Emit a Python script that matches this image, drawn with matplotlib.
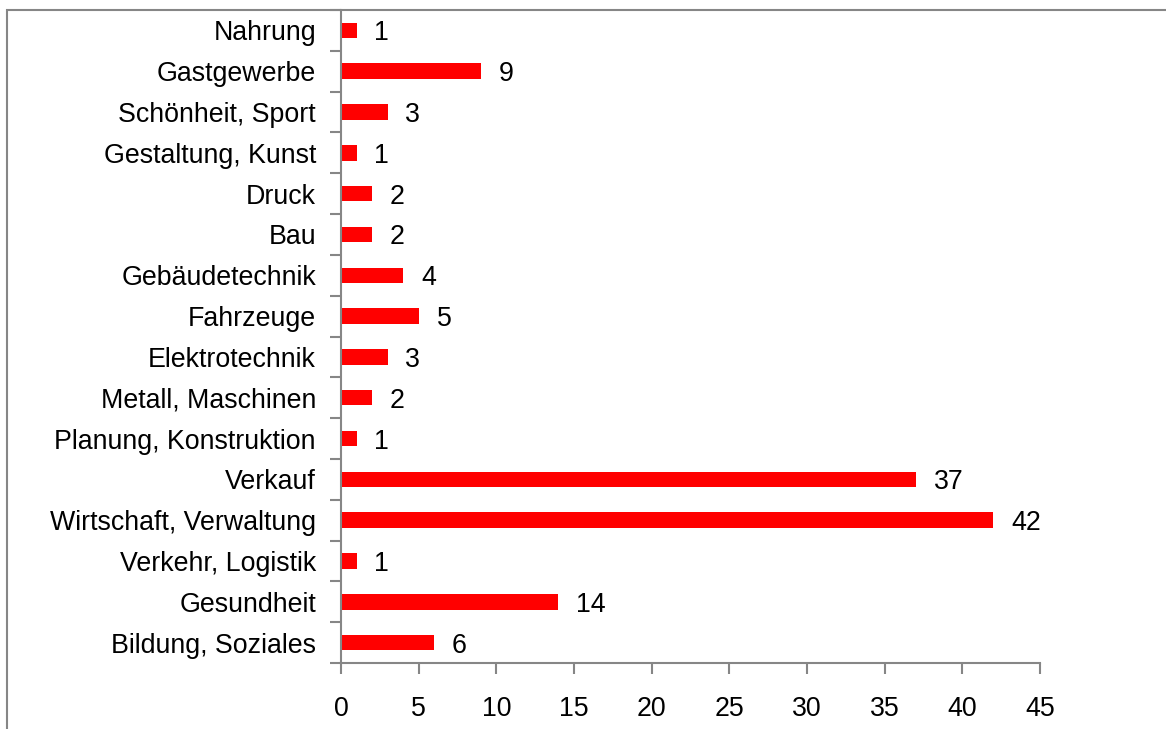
import matplotlib
matplotlib.use("Agg")
import matplotlib.pyplot as plt
import numpy as np
from matplotlib.patches import Rectangle

categories = ["Nahrung", "Gastgewerbe", "Schönheit, Sport", "Gestaltung, Kunst", "Druck", "Bau",
              "Gebäudetechnik", "Fahrzeuge", "Elektrotechnik", "Metall, Maschinen",
              "Planung, Konstruktion", "Verkauf", "Wirtschaft, Verwaltung", "Verkehr, Logistik",
              "Gesundheit", "Bildung, Soziales"]
values = [1, 9, 3, 1, 2, 2, 4, 5, 3, 2, 1, 37, 42, 1, 14, 6]
xticks = [0, 5, 10, 15, 20, 25, 30, 35, 40, 45]

plt.rcParams['font.family'] = ['Liberation Sans', 'DejaVu Sans']
W, H = 1166, 729
fig = plt.figure(figsize=(W/100, H/100), dpi=100)
gray = '#868686'
fs = 19.3

# outer chart-area border (cropped on right/bottom)
fig.patches.append(Rectangle((7/W, -0.1), 1.2, 1.1 - 10/H, transform=fig.transFigure,
                             fill=False, edgecolor=gray, linewidth=1.5))

ax = fig.add_axes([341/W, 1 - 663/H, (1040-341)/W, (663-10)/H])
n = len(categories)
y = np.arange(n)[::-1]
ax.barh(y, values, height=0.38, color='#FF0000')
for yi, v in zip(y, values):
    ax.text(v + 1.15, yi, str(v), va='center_baseline', ha='left', fontsize=fs)

ax.set_xlim(0, 45)
ax.set_ylim(-0.5, n - 0.5)
ax.set_xticks(xticks)
ax.set_xticklabels([str(t) for t in xticks], fontsize=fs)
ax.set_yticks(y)
ax.set_yticklabels(categories, fontsize=fs)
ax.set_yticks(np.arange(n + 1) - 0.5, minor=True)
ax.tick_params(axis='y', which='major', length=0, pad=18)
ax.tick_params(axis='y', which='minor', length=8, width=1.5, color=gray, direction='out')
ax.tick_params(axis='x', length=8, width=1.5, color=gray, direction='out', pad=16)
for s in ['top', 'right']:
    ax.spines[s].set_visible(False)
for s in ['left', 'bottom']:
    ax.spines[s].set_color(gray)
    ax.spines[s].set_linewidth(1.5)

fig.savefig('out.png', dpi=100)
